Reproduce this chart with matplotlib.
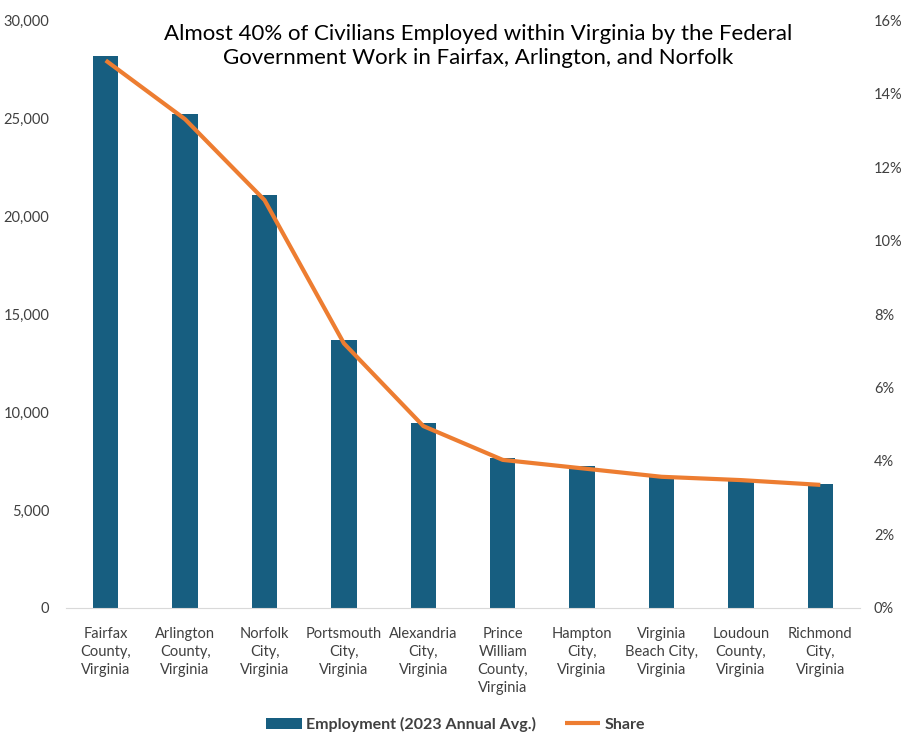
import matplotlib.pyplot as plt
import matplotlib.ticker as mticker
import numpy as np

plt.rcParams['font.family'] = ['Lato', 'DejaVu Sans']

places = ["Fairfax\nCounty,\nVirginia", "Arlington\nCounty,\nVirginia", "Norfolk\nCity,\nVirginia",
          "Portsmouth\nCity,\nVirginia", "Alexandria\nCity,\nVirginia", "Prince\nWilliam\nCounty,\nVirginia",
          "Hampton\nCity,\nVirginia", "Virginia\nBeach City,\nVirginia", "Loudoun\nCounty,\nVirginia",
          "Richmond\nCity,\nVirginia"]
employment = [28150, 25200, 21050, 13650, 9450, 7650, 7250, 6750, 6550, 6350]
share = [14.9, 13.3, 11.1, 7.2, 4.95, 4.03, 3.8, 3.57, 3.48, 3.35]

bar_col = '#175E80'
line_col = '#ED7D31'
txt = '#404040'

fig = plt.figure(figsize=(9.12, 7.53), dpi=100)
ax = fig.add_axes([0.0724, 0.1926, 0.8706, 0.7808])
ax2 = ax.twinx()

x = np.arange(len(places))
ax.bar(x, employment, width=0.32, color=bar_col, label='Employment (2023 Annual Avg.)', zorder=2)
ax2.plot(x, share, color=line_col, lw=3, label='Share', solid_capstyle='butt')

ax.set_xlim(-0.5, len(places) - 0.5)
ax.set_ylim(0, 30000)
ax2.set_ylim(0, 16)
ax.yaxis.set_major_locator(mticker.MultipleLocator(5000))
ax.yaxis.set_major_formatter(mticker.FuncFormatter(lambda v, p: f'{v:,.0f}'))
ax2.yaxis.set_major_locator(mticker.MultipleLocator(2))
ax2.yaxis.set_major_formatter(mticker.FuncFormatter(lambda v, p: f'{v:.0f}%'))

ax.set_xticks(x)
ax.set_xticklabels(places, fontsize=10.5, color=txt, linespacing=1.35, va='top')
for a in (ax, ax2):
    for s in a.spines.values():
        s.set_visible(False)
    a.tick_params(length=0, labelsize=10.5, labelcolor=txt)
ax.spines['bottom'].set_visible(True)
ax.spines['bottom'].set_color('#D9D9D9')
ax.tick_params(axis='x', pad=14)
ax.tick_params(axis='y', pad=12)
ax2.tick_params(axis='y', pad=10)

fig.text(0.524, 0.968, 'Almost 40% of Civilians Employed within Virginia by the Federal\nGovernment Work in Fairfax, Arlington, and Norfolk',
         ha='center', va='top', fontsize=16, color='black', linespacing=1.25)

h1, l1 = ax.get_legend_handles_labels()
h2, l2 = ax2.get_legend_handles_labels()
leg = fig.legend(h1 + h2, l1 + l2, loc='center', bbox_to_anchor=(0.5, 0.038), ncol=2, frameon=False,
                 prop={'weight': 'bold', 'size': 11.5}, handlelength=2.2, handletextpad=0.3, columnspacing=1.8)
for t in leg.get_texts():
    t.set_color(txt)

fig.savefig('out.png', dpi=100)
